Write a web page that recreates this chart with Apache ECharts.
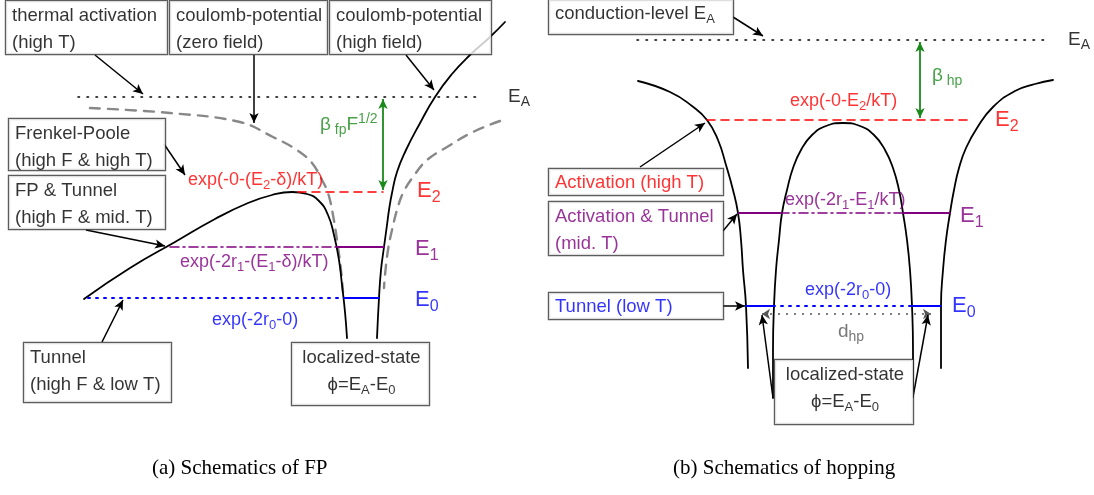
<!DOCTYPE html>
<html>
<head>
<meta charset="utf-8">
<script src="https://cdn.jsdelivr.net/npm/echarts@6/dist/echarts.min.js"></script>
<style>
  html, body { margin: 0; padding: 0; background: #fff; }
  #chart { width: 1094px; height: 495px; }
</style>
</head>
<body>
<div id="chart"></div>
<script>
// ---------- data (in the figure's own x/y units) ----------
// (a) Frenkel-Poole schematic
const fpBarrier      = [[84,299],[130,268],[175,242],[215,219],[248,203],[272,195],[292,192],[307,194],[319,201],[328,215],[334,235],[339,260],[342,285],[345,312],[347,338]];
const fpWellRight    = [[377,338],[379,298],[381,270],[384,247],[387,225],[389,210],[392,193],[397,172],[406,150],[419,125],[435,97],[452,74],[470,55],[490,37],[505,22]];
const coulombZeroL   = [[90,108],[170,113],[240,122],[273,137],[297,150],[312,163],[322,180],[328,193],[333,215],[338,247],[341,270],[343,292]];
const coulombZeroR   = [[500,121],[473,132],[447,147],[427,160],[413,177],[403,193],[397,210],[392,230],[388,250],[385,275],[384,288]];
const fpLevelEA      = [[78,97],[483,97]];
const fpLevelE2      = [[298,192],[383,192]];
const fpLevelE1Path  = [[170,247],[338,247]];
const fpLevelE1Well  = [[338,247],[384,247]];
const fpLevelE0Path  = [[88,298],[344,298]];
const fpLevelE0Well  = [[344,298],[379,298]];
const fpBeta         = [[383,99],[383,190]];
// (b) hopping schematic
const hpBarrierL     = [[638,81],[670,92],[692,106],[707,120],[718,140],[726,165],[733,190],[738,213],[741,240],[743,270],[746,306],[748,368]];
const hpHump         = [[773,398],[773,350],[774,306],[776,270],[779,240],[782,213],[787,190],[793,168],[801,150],[812,135],[826,126],[843,123],[860,126],[874,135],[885,150],[893,168],[899,190],[903,213],[907,240],[910,270],[912,306],[913,350],[913,397]];
const hpBarrierR     = [[941,368],[941,306],[943,270],[946,240],[950,213],[954,190],[959,168],[966,148],[977,128],[993,107],[1015,91],[1035,84],[1053,80]];
const hpLevelEA      = [[637,40],[1048,40]];
const hpLevelE2      = [[707,120],[973,120]];
const hpLevelE1L     = [[739,213],[780,213]];
const hpLevelE1Mid   = [[780,213],[904,213]];
const hpLevelE1R     = [[904,213],[950,213]];
const hpLevelE0L     = [[746,306],[773,306]];
const hpLevelE0Mid   = [[773,306],[913,306]];
const hpLevelE0R     = [[913,306],[941,306]];
const hpDistance     = [[762,314],[931,314]];
const hpBeta         = [[920,42],[920,118]];
// pointer arrows [from, to]
const pointerArrows = [
  [[95,55],[143,94]], [[254,55],[254,123]], [[406,55],[434,90]],
  [[164,144],[185,175]], [[86,230],[165,246]], [[102,342],[123,300]],
  [[733,17],[763,36]], [[640,167],[705,123]], [[723,231],[737,214]],
  [[723,306],[745,306]], [[773,398],[762,315]], [[913,397],[928,315]]
];

// ---------- annotation layout ----------
const boxNotes = [
  {x:6,   y:1,   w:161, h:53, color:'#000', text:'{n|thermal activation}\n{n|(high T)}'},
  {x:170, y:1,   w:157, h:53, color:'#000', text:'{n|coulomb-potential}\n{n|(zero field)}'},
  {x:330, y:1,   w:161, h:53, color:'#000', text:'{n|coulomb-potential}\n{n|(high field)}'},
  {x:9,   y:119, w:156, h:51, color:'#000', text:'{n|Frenkel-Poole}\n{n|(high F & high T)}'},
  {x:9,   y:176, w:156, h:53, color:'#000', text:'{n|FP & Tunnel}\n{n|(high F & mid. T)}'},
  {x:24,  y:343, w:147, h:59, color:'#000', text:'{n|Tunnel}\n{n|(high F & low T)}'},
  {x:292, y:343, w:137, h:62, color:'#000', text:'{n|localized-state}\n{n|ϕ=E}{s|A}{n|-E}{s|0}', center:true},
  {x:549, y:0,   w:184, h:35, color:'#000', text:'{n|conduction-level E}{s|A}'},
  {x:549, y:169, w:174, h:27, color:'#ff0000', text:'{n|Activation (high T)}'},
  {x:549, y:202, w:174, h:53, color:'#800080', text:'{n|Activation & Tunnel}\n{n|(mid. T)}'},
  {x:549, y:293, w:174, h:27, color:'#0000ff', text:'{n|Tunnel (low T)}'},
  {x:775, y:360, w:138, h:64, color:'#000', text:'{n|localized-state}\n{n|ϕ=E}{s|A}{n|-E}{s|0}', center:true}
];
const freeNotes = [
  {x:508, y:97,  size:19, color:'#000',    text:'{n|E}{s|A}'},
  {x:417, y:191, size:22, color:'#ff0000', text:'{n|E}{s|2}'},
  {x:415, y:249, size:22, color:'#800080', text:'{n|E}{s|1}'},
  {x:415, y:300, size:22, color:'#0000ff', text:'{n|E}{s|0}'},
  {x:188, y:180, size:18, color:'#ff0000', text:'{n|exp(-0-(E}{s|2}{n|-δ)/kT)}'},
  {x:180, y:262, size:18, color:'#800080', text:'{n|exp(-2r}{s|1}{n|-(E}{s|1}{n|-δ)/kT)}'},
  {x:212, y:320, size:18, color:'#0000ff', text:'{n|exp(-2r}{s|0}{n|-0)}'},
  {x:320, y:125, size:19, color:'#1a8a1a', text:'{n|β}{s| fp}{n|F}{p|1/2}'},
  {x:1068,y:40,  size:19, color:'#000',    text:'{n|E}{s|A}'},
  {x:995, y:120, size:22, color:'#ff0000', text:'{n|E}{s|2}'},
  {x:960, y:216, size:22, color:'#800080', text:'{n|E}{s|1}'},
  {x:952, y:306, size:22, color:'#0000ff', text:'{n|E}{s|0}'},
  {x:790, y:101, size:18, color:'#ff0000', text:'{n|exp(-0-E}{s|2}{n|/kT)}'},
  {x:785, y:200, size:18, color:'#800080', text:'{n|exp(-2r}{s|1}{n|-E}{s|1}{n|/kT)}'},
  {x:805, y:290, size:18, color:'#0000ff', text:'{n|exp(-2r}{s|0}{n|-0)}'},
  {x:932, y:76,  size:19, color:'#1a8a1a', text:'{n|β}{s| hp}'},
  {x:838, y:332, size:19, color:'#555555', text:'{n|d}{s|hp}'}
];
const captions = [
  {x:147, y:466, text:'(a) Schematics of FP'},
  {x:668, y:466, text:'(b) Schematics of hopping'}
];

// ---------- build ----------
const FONT = '"Liberation Sans", Arial, Helvetica, sans-serif';
function richFor(size, color) {
  const sub = Math.round(size * 0.72);
  return {
    n: {fontSize: size, color: color, fontFamily: FONT, lineHeight: Math.round(size * 1.46)},
    s: {fontSize: sub, color: color, fontFamily: FONT, lineHeight: 4, padding: [Math.round(size * 0.6), 0, 0, 0]},
    p: {fontSize: sub, color: color, fontFamily: FONT, lineHeight: 4, padding: [0, 0, Math.round(size * 0.6), 0]}
  };
}
function line(data, color, width, type, smooth, z) {
  return {type: 'line', data: data, symbol: 'none', showSymbol: false, smooth: smooth || false,
          silent: true, z: z || 2, lineStyle: {color: color, width: width, type: type || 'solid', cap: 'round'}};
}
function arrowSeries(pairs, color, symbols, size, width, dash) {
  return {type: 'line', data: [], silent: true, z: 3,
    markLine: {silent: true, animation: false, symbol: symbols, symbolSize: size,
      label: {show: false}, emphasis: {disabled: true},
      lineStyle: {color: color, width: width, type: dash || 'solid'},
      data: pairs.map(p => [{coord: p[0]}, {coord: p[1]}])}};
}

const series = [
  line(coulombZeroL, '#888', 2.4, [10, 8], 0.4),
  line(coulombZeroR, '#888', 2.4, [10, 8], 0.4),
  line(fpBarrier, '#000', 1.8, 'solid', 0.5),
  line(fpWellRight, '#000', 1.8, 'solid', 0.5),
  line(fpLevelEA, '#000', 1.6, [1.5, 7.5]),
  line(fpLevelE2, '#ff0000', 1.6, [8, 6]),
  line(fpLevelE1Path, '#800080', 1.6, [9, 4, 2, 4]),
  line(fpLevelE1Well, '#800080', 1.8),
  line(fpLevelE0Path, '#0000ff', 2, [2, 6]),
  line(fpLevelE0Well, '#0000ff', 1.8),
  line(hpBarrierL, '#000', 1.8, 'solid', 0.5),
  line(hpHump, '#000', 1.8, 'solid', 0.5),
  line(hpBarrierR, '#000', 1.8, 'solid', 0.5),
  line(hpLevelEA, '#000', 1.6, [1.5, 7.5]),
  line(hpLevelE2, '#ff0000', 1.6, [8, 6]),
  line(hpLevelE1L, '#800080', 1.8),
  line(hpLevelE1Mid, '#800080', 1.6, [9, 4, 2, 4]),
  line(hpLevelE1R, '#800080', 1.8),
  line(hpLevelE0L, '#0000ff', 1.8),
  line(hpLevelE0Mid, '#0000ff', 2, [2, 6]),
  line(hpLevelE0R, '#0000ff', 1.8),
  arrowSeries([[hpDistance[0], hpDistance[1]]], '#555', ['arrow', 'arrow'], [8, 8], 1.6, [2, 6]),
  arrowSeries([[fpBeta[0], fpBeta[1]], [hpBeta[0], hpBeta[1]]], '#1a8a1a', ['arrow', 'arrow'], [7, 10], 1.8),
  arrowSeries(pointerArrows, '#000', ['none', 'arrow'], [7, 10], 1.5)
];

series.push({
  type: 'scatter', silent: true, z: 10, symbolSize: 0, itemStyle: {color: 'transparent'},
  data: boxNotes.map(b => ({
    value: b.center ? [b.x + b.w / 2, b.y] : [b.x, b.y],
    label: {show: true, position: [0, 0], align: b.center ? 'center' : 'left', verticalAlign: 'top',
      formatter: b.text, rich: richFor(18.5, b.color),
      backgroundColor: '#fff', borderColor: '#333', borderWidth: 1.2,
      padding: [b.h > 40 ? 1 : 0, 4, 0, 6], width: b.w - 10, height: b.h - 1}
  }))
});
series.push({
  type: 'scatter', silent: true, z: 11, symbolSize: 0, itemStyle: {color: 'transparent'},
  data: freeNotes.map(t => ({
    value: [t.x, t.y],
    label: {show: true, position: [0, 0], align: 'left', verticalAlign: 'middle',
      formatter: t.text, rich: richFor(t.size, t.color)}
  }))
});

const chart = echarts.init(document.getElementById('chart'), null, {renderer: 'canvas'});
chart.setOption({
  animation: false,
  backgroundColor: '#fff',
  title: captions.map(c => ({text: c.text, left: c.x, top: c.y - 13,
    textStyle: {fontFamily: '"Liberation Serif", "DejaVu Serif", serif', fontSize: 21, fontWeight: 'normal', color: '#000'}})),
  grid: {left: 0, right: 0, top: 0, bottom: 0},
  xAxis: {type: 'value', min: 0, max: 1094, show: false},
  yAxis: {type: 'value', min: 0, max: 495, inverse: true, show: false},
  series: series
});
</script>
</body>
</html>
